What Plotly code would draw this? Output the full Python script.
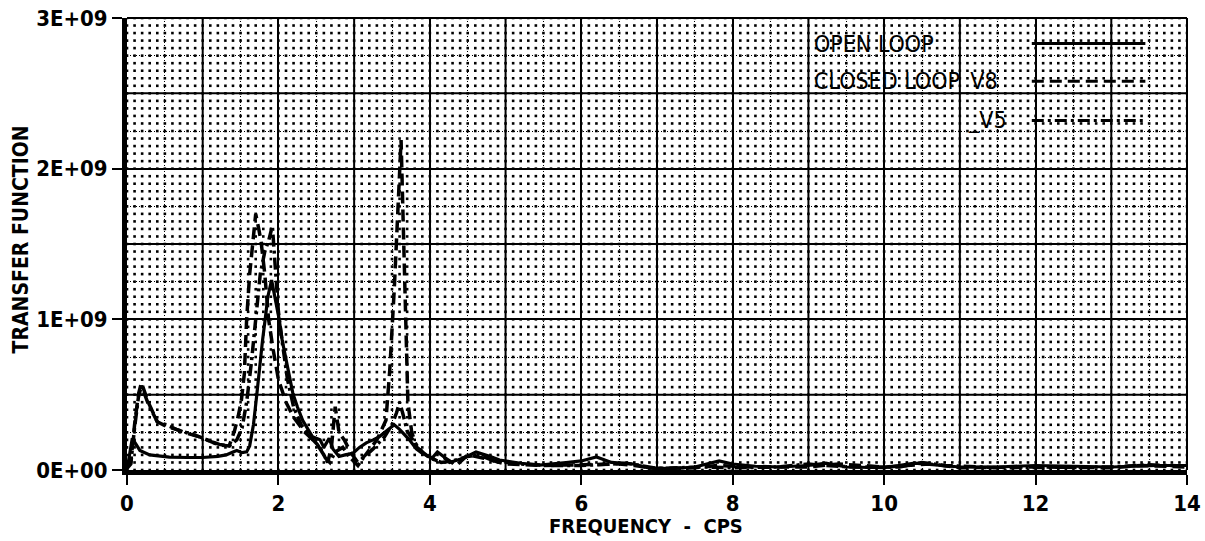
import numpy as np
import plotly.graph_objects as go

# ---------------- data (values in units of 1E+09) ----------------
open_x = [0.0, 0.03, 0.07, 0.12, 0.17, 0.3, 0.56, 0.8, 1.0, 1.2, 1.31, 1.4, 1.45, 1.52, 1.58,
          1.62, 1.67, 1.71, 1.75, 1.79, 1.83, 1.86, 1.91, 1.95, 2.01, 2.05, 2.1, 2.19, 2.25,
          2.32, 2.45, 2.55, 2.6, 2.67, 2.72, 2.8, 2.88, 2.98, 3.07, 3.16, 3.25, 3.33, 3.43,
          3.53, 3.6, 3.73, 3.82, 3.9, 4.03, 4.1, 4.18, 4.26, 4.45, 4.61, 4.8, 4.92, 5.2, 5.45,
          5.8, 6.0, 6.2, 6.4, 6.68, 6.9, 7.2, 7.5, 7.82, 8.0, 8.3, 8.6, 9.0, 9.23, 9.5, 10.0,
          10.4, 10.7, 11.0, 11.5, 12.0, 12.5, 13.0, 13.6, 14.0]
open_y = [0.0, 0.08, 0.21, 0.17, 0.13, 0.1, 0.086, 0.083, 0.083, 0.09, 0.1, 0.12, 0.13, 0.115, 0.12,
          0.16, 0.3, 0.48, 0.68, 0.86, 1.02, 1.15, 1.26, 1.16, 1.0, 0.86, 0.73, 0.51, 0.42,
          0.33, 0.22, 0.2, 0.15, 0.21, 0.14, 0.09, 0.1, 0.11, 0.15, 0.18, 0.2, 0.22, 0.26,
          0.30, 0.27, 0.2, 0.14, 0.11, 0.08, 0.12, 0.09, 0.05, 0.08, 0.12, 0.09, 0.066, 0.045, 0.033,
          0.05, 0.06, 0.086, 0.05, 0.04, 0.013, 0.01, 0.02, 0.06, 0.04, 0.025, 0.02, 0.03, 0.045, 0.02, 0.015,
          0.045, 0.03, 0.02, 0.02, 0.03, 0.025, 0.02, 0.03, 0.03]

v8_x = [0.0, 0.05, 0.1, 0.15, 0.19, 0.28, 0.4, 0.52, 0.65, 0.78, 0.96, 1.1, 1.22, 1.35, 1.42,
        1.47, 1.51, 1.55, 1.58, 1.62, 1.66, 1.70, 1.74, 1.77, 1.82, 1.87, 1.93, 2.0, 2.1, 2.2,
        2.35, 2.5, 2.6, 2.65, 2.7, 2.75, 2.8, 2.87, 2.95, 3.05, 3.15, 3.3, 3.42, 3.47, 3.53,
        3.58, 3.62, 3.65, 3.68, 3.71, 3.76, 3.83, 3.95, 4.1, 4.2, 4.35, 4.5, 4.7, 5.0, 5.5,
        6.0, 6.5, 6.7, 7.0, 7.5, 7.8, 8.2, 9.0, 9.4, 10.0, 10.6, 11.0, 12.0, 13.0, 13.4, 14.0]
v8_y = [0.02, 0.05, 0.3, 0.5, 0.58, 0.45, 0.32, 0.29, 0.27, 0.245, 0.22, 0.19, 0.165, 0.16, 0.26,
        0.36, 0.46, 0.64, 1.0, 1.3, 1.5, 1.70, 1.6, 1.52, 1.3, 1.0, 0.8, 0.6, 0.45, 0.35,
        0.25, 0.18, 0.1, 0.05, 0.15, 0.42, 0.25, 0.2, 0.12, 0.05, 0.1, 0.2, 0.33, 0.66, 1.2,
        1.8, 2.19, 1.6, 0.9, 0.45, 0.25, 0.15, 0.1, 0.06, 0.08, 0.03, 0.1, 0.08, 0.04, 0.03,
        0.035, 0.04, 0.03, 0.01, 0.015, 0.03, 0.02, 0.02, 0.04, 0.02, 0.04, 0.015, 0.02, 0.015, 0.03, 0.02]

v5_x = [0.0, 0.05, 0.1, 0.15, 0.19, 0.28, 0.4, 0.52, 0.65, 0.78, 0.96, 1.1, 1.22, 1.35, 1.45,
        1.52, 1.58, 1.64, 1.7, 1.76, 1.82, 1.87, 1.92, 1.96, 2.0, 2.05, 2.12, 2.2, 2.3, 2.42,
        2.55, 2.62, 2.68, 2.75, 2.85, 2.95, 3.05, 3.12, 3.25, 3.4, 3.5, 3.56, 3.6, 3.64, 3.7,
        3.8, 3.9, 4.0, 4.15, 4.3, 4.5, 4.65, 4.85, 5.2, 5.6, 6.0, 6.6, 7.0, 7.6, 8.0, 8.6,
        9.0, 9.2, 9.6, 10.2, 10.5, 10.8, 11.5, 12.2, 13.0, 13.5, 14.0]
v5_y = [0.01, 0.04, 0.28, 0.48, 0.56, 0.44, 0.32, 0.3, 0.27, 0.25, 0.22, 0.19, 0.17, 0.16, 0.2,
        0.28, 0.45, 0.7, 1.0, 1.3, 1.45, 1.52, 1.62, 1.35, 1.05, 0.85, 0.6, 0.42, 0.3, 0.22,
        0.15, 0.08, 0.05, 0.12, 0.15, 0.08, 0.03, 0.08, 0.14, 0.22, 0.3, 0.38, 0.45, 0.38, 0.26,
        0.18, 0.12, 0.08, 0.05, 0.06, 0.09, 0.1, 0.06, 0.04, 0.03, 0.03, 0.045, 0.01, 0.02, 0.015, 0.02,
        0.04, 0.03, 0.02, 0.02, 0.05, 0.03, 0.015, 0.02, 0.02, 0.035, 0.025]

x_ticks = [0, 2, 4, 6, 8, 10, 12, 14]
y_ticks = [0, 1, 2, 3]
y_tick_text = ["0E+00", "1E+09", "2E+09", "3E+09"]
series_names = ["OPEN LOOP", "CLOSED LOOP_V8", "_V5"]
x_title = "FREQUENCY  -  CPS"
y_title = "TRANSFER FUNCTION"
SCALE = 1e9

# ---------------- styling ----------------
FAM = "DejaVu Sans Condensed, Liberation Sans Narrow, sans-serif"
TICK_FONT = dict(family=FAM, size=22, color="black", weight="bold")
LEG_FONT = dict(family=FAM, size=23, color="black")
TITLE_FONT = dict(family=FAM, size=20, color="black", weight="bold")

fig = go.Figure()

# dot grid (paper decoration)
gx = np.round(np.arange(0, 14.0001, 0.1), 3)
gy = np.round(np.arange(0, 3.0001, 0.05), 3)
GX, GY = np.meshgrid(gx, gy)
fig.add_trace(go.Scatter(x=GX.ravel(), y=GY.ravel() * SCALE, mode="markers",
                         marker=dict(size=2.6, color="black", symbol="square", line=dict(width=0)),
                         hoverinfo="skip", showlegend=False))

LW = 3.2
fig.add_trace(go.Scatter(x=open_x, y=np.array(open_y) * SCALE, mode="lines", name=series_names[0],
                         line=dict(color="black", width=LW), showlegend=False))
fig.add_trace(go.Scatter(x=v8_x, y=np.array(v8_y) * SCALE, mode="lines", name=series_names[1],
                         line=dict(color="black", width=LW + 0.3, dash="12px,6px"), showlegend=False))
fig.add_trace(go.Scatter(x=v5_x, y=np.array(v5_y) * SCALE, mode="lines", name=series_names[2],
                         line=dict(color="black", width=LW + 0.3, dash="12px,4px,3px,4px"), showlegend=False))

# solid grid lines at the odd integers / half billions (between grid and traces)
for xv in range(1, 14, 2):
    fig.add_shape(type="line", xref="x", yref="paper", x0=xv, x1=xv, y0=0, y1=1,
                  line=dict(color="black", width=2), layer="between")
for k in range(1, 6, 2):
    fig.add_shape(type="line", xref="paper", yref="y", x0=0, x1=1, y0=k * 0.5 * SCALE, y1=k * 0.5 * SCALE,
                  line=dict(color="black", width=2), layer="between")
# thin top/right frame
fig.add_shape(type="line", xref="paper", yref="paper", x0=0, x1=1, y0=1, y1=1,
              line=dict(color="black", width=2), layer="above")
fig.add_shape(type="line", xref="paper", yref="paper", x0=1, x1=1, y0=0, y1=1,
              line=dict(color="black", width=2), layer="above")

# legend drawn on the chart
leg_y = [2.83, 2.58, 2.32]
leg_dash = ["solid", "12px,6px", "12px,4px,3px,4px"]
for i, name in enumerate(series_names):
    fig.add_annotation(x=11.65 if i == 2 else 9.05, xanchor="right" if i == 2 else "left",
                       y=leg_y[i] * SCALE, text=name, showarrow=False, font=LEG_FONT,
                       xref="x", yref="y", yanchor="middle")
    fig.add_shape(type="line", xref="x", yref="y", x0=11.95, x1=13.45,
                  y0=leg_y[i] * SCALE, y1=leg_y[i] * SCALE,
                  line=dict(color="black", width=3, dash=leg_dash[i]), layer="above")

fig.update_xaxes(range=[0, 14], tickvals=x_ticks, ticktext=[str(v) for v in x_ticks],
                 ticks="outside", ticklen=10, tickwidth=2, tickcolor="black",
                 showgrid=True, gridcolor="black", gridwidth=2,
                 minor=dict(dtick=0.5, tick0=0, showgrid=True, gridcolor="black", gridwidth=1.4,
                            griddash="1.4px,1.6px", ticks=""),
                 showline=True, linecolor="black", linewidth=5, automargin=False,
                 zeroline=False, tickfont=TICK_FONT)
fig.update_yaxes(range=[0, 3 * SCALE], tickvals=[v * SCALE for v in y_ticks], ticktext=y_tick_text,
                 ticks="outside", ticklen=10, tickwidth=2, tickcolor="black",
                 showgrid=True, gridcolor="black", gridwidth=2,
                 minor=dict(dtick=0.25 * SCALE, tick0=0, showgrid=True, gridcolor="black", gridwidth=1.4,
                            griddash="1.4px,1.6px", ticks=""),
                 showline=True, linecolor="black", linewidth=5, automargin=False,
                 zeroline=False, tickfont=TICK_FONT)

fig.add_annotation(text=x_title, xref="paper", yref="paper", x=0.49, y=-0.092,
                   xanchor="center", yanchor="top", showarrow=False, font=TITLE_FONT)
fig.add_annotation(text=y_title, xref="paper", yref="paper", x=-0.1, y=0.51,
                   xanchor="center", yanchor="middle", textangle=-90, showarrow=False,
                   font=dict(family=FAM, size=21, color="black", weight="bold"))

fig.update_layout(width=1205, height=541, margin=dict(l=127, r=18, t=18, b=71, autoexpand=False),
                  plot_bgcolor="white", paper_bgcolor="white", showlegend=False)

fig.write_html("out.html", config={"displayModeBar": False},
               post_script="document.body.style.margin='0';")
